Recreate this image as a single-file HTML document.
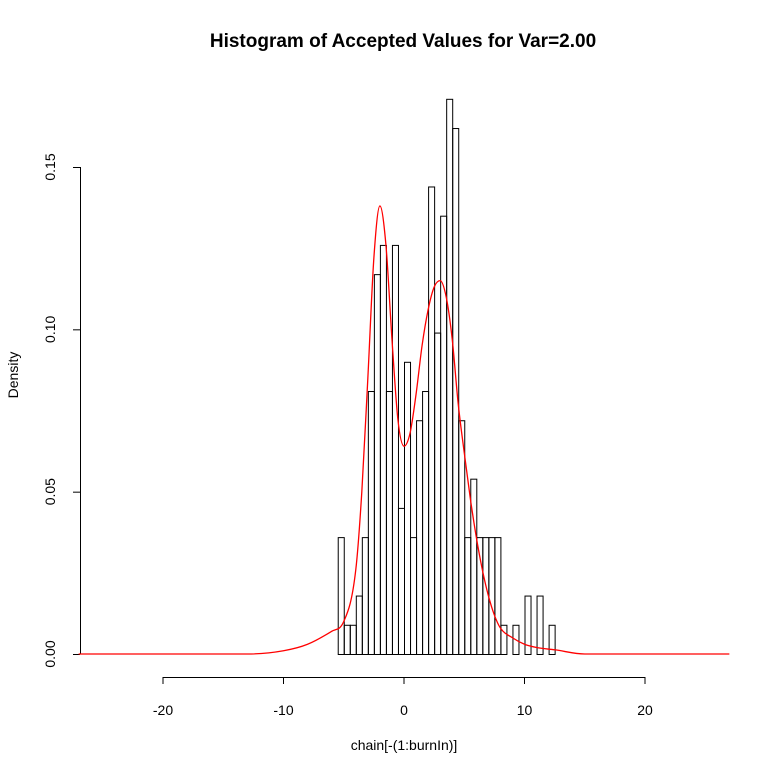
<!DOCTYPE html>
<html><head><meta charset="utf-8"><style>
html,body{margin:0;padding:0;background:#fff;}
svg text{font-family:"Liberation Sans",Arial,sans-serif;}
</style></head><body>
<svg id="chart" width="769" height="775" xmlns="http://www.w3.org/2000/svg">
<rect width="769" height="775" fill="#fff"/>
<text x="403" y="47" text-anchor="middle" font-weight="bold" font-size="19">Histogram of Accepted Values for Var=2.00</text>
<text x="404" y="750" text-anchor="middle" font-size="14">chain[-(1:burnIn)]</text>
<text transform="translate(18,375) rotate(-90)" text-anchor="middle" font-size="14">Density</text>
<g id="bars"></g>
<g id="axes"></g>
<path id="curve" fill="none" stroke="#ff0000" stroke-width="1.3"/>
</svg>
<script>
const binStart = -5.5;
const binWidth = 0.5;
const densities = [0.036,0.009,0.009,0.018,0.036,0.081,0.117,0.126,0.081,0.126,0.045,0.090,0.036,0.072,0.081,0.144,0.099,0.135,0.171,0.162,0.072,0.036,0.054,0.036,0.036,0.036,0.036,0.009,0,0.009,0,0.018,0,0.018,0,0.009];
const curveX = [-27,-13,-10,-8,-6,-5,-4,-3.5,-3,-2.5,-2,-1.5,-1,-0.5,0,0.5,1,1.5,2,2.5,3,3.5,4,4.5,5,5.5,6,6.5,7,7.5,8,9,10,11,12.5,15,27];
const curveY = [0,0,0.001,0.003,0.007,0.010,0.026,0.050,0.085,0.122,0.138,0.126,0.097,0.072,0.064,0.068,0.080,0.095,0.106,0.113,0.115,0.110,0.097,0.077,0.062,0.048,0.036,0.026,0.018,0.012,0.008,0.005,0.003,0.002,0.0013,0,0];
const xTicks = [-20,-10,0,10,20];
const yTicks = [0,0.05,0.10,0.15];
const yTickLabels = ["0.00","0.05","0.10","0.15"];

const NS="http://www.w3.org/2000/svg";
const xs = v => 404 + v*12.05;
const ys = v => 654 - v*3246.7;
function mk(tag, attrs, parent){const e=document.createElementNS(NS,tag);for(const k in attrs)e.setAttribute(k,attrs[k]);parent.appendChild(e);return e;}
const bars=document.getElementById('bars');
densities.forEach((d,i)=>{
  const x0=xs(binStart+i*binWidth), x1=xs(binStart+(i+1)*binWidth);
  const r=mk('rect',{x:x0+0.5,y:ys(d)+0.5,width:x1-x0,height:Math.max(0,ys(0)-ys(d)),fill:'none',stroke:'#000','stroke-width':1},bars);
  
  
});
const axes=document.getElementById('axes');
const xl=mk('line',{x1:xs(-20),x2:xs(20),y1:677.5,y2:677.5,stroke:'#000'},axes);


xTicks.forEach(t=>{
  mk('line',{x1:xs(t),x2:xs(t),y1:677,y2:684,stroke:'#000'},axes);
  const tx=mk('text',{x:xs(t),y:715,'text-anchor':'middle','font-size':14},axes);
  tx.textContent=t;
  
  
});
const yl=mk('line',{x1:80.5,x2:80.5,y1:ys(0),y2:ys(0.15),stroke:'#000'},axes);


yTicks.forEach((t,i)=>{
  mk('line',{x1:73,x2:80,y1:ys(t)+0.5,y2:ys(t)+0.5,stroke:'#000'},axes);
  const tx=mk('text',{transform:`translate(55,${ys(t)}) rotate(-90)`,'text-anchor':'middle','font-size':14},axes);
  tx.textContent=yTickLabels[i];
  
  
});
// smooth curve: monotone cubic (Fritsch-Carlson) through the data points
(function(){
  const n=curveX.length, px=curveX.map(xs), py=curveY.map(ys);
  const d=[], m=[];
  for(let i=0;i<n-1;i++) d.push((py[i+1]-py[i])/(px[i+1]-px[i]));
  m[0]=d[0]; m[n-1]=d[n-2];
  for(let i=1;i<n-1;i++) m[i]=(d[i-1]*d[i]<=0)?0:(d[i-1]+d[i])/2;
  for(let i=0;i<n-1;i++){ if(d[i]===0){m[i]=0;m[i+1]=0;continue;}
    const a=m[i]/d[i], b=m[i+1]/d[i], s=a*a+b*b;
    if(s>9){const t=3/Math.sqrt(s); m[i]=t*a*d[i]; m[i+1]=t*b*d[i];}}
  let p='M'+px[0]+','+py[0];
  for(let i=0;i<n-1;i++){const h=(px[i+1]-px[i])/3;
    p+=` C${px[i]+h},${py[i]+m[i]*h} ${px[i+1]-h},${py[i+1]-m[i+1]*h} ${px[i+1]},${py[i+1]}`;}
  document.getElementById('curve').setAttribute('d',p);
})();
</script>
</body></html>
